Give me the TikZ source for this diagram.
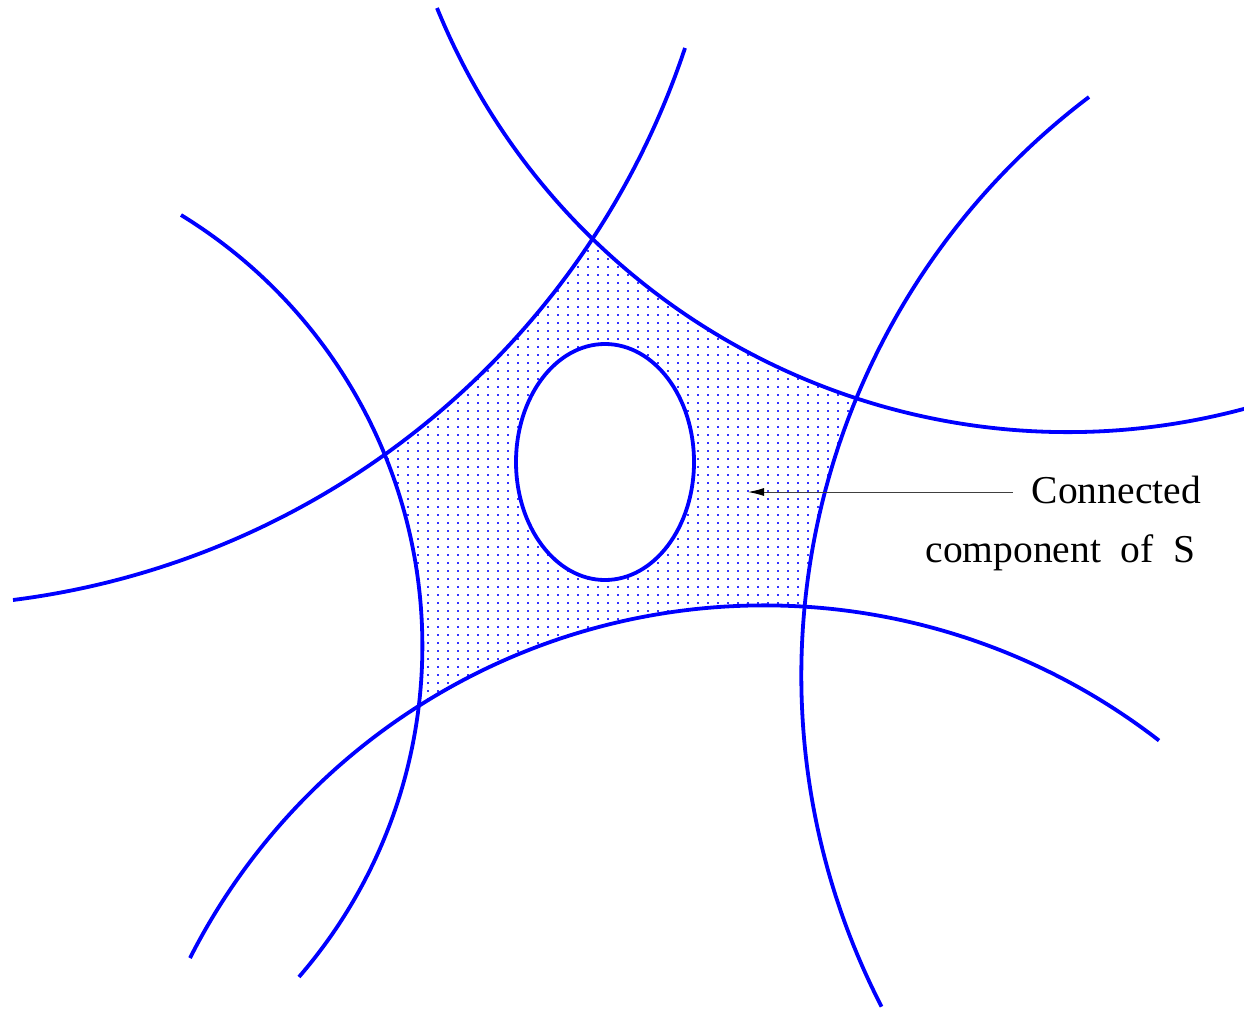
\documentclass[tikz,border=0pt]{standalone}
\usepackage{fontspec}
\setmainfont{Liberation Serif}
\usepackage{tikz}
\usetikzlibrary{arrows.meta}

\begin{document}
\begin{tikzpicture}[kurve/.style={draw=blue, line width=3.8pt}, punkte/.style={blue!80, line width=1.8pt, dash pattern=on 1.8pt off 6.2pt},
				x=1pt, y=-1pt,
				>={Latex[length=16pt,width=8pt,color=black]},   %Pfeilspitzen
				font=\fontsize{39.5}{47}\selectfont]
				\useasboundingbox (0,0) rectangle (1244,1009);
				%Punktierte Flaeche
				\begin{scope}[even odd rule]
				\clip (-3000,-3000) rectangle (4000,4000) (1068,-249.5) circle[radius=681.5];
				\clip (-3000,-3000) rectangle (4000,4000) (-90,-209.2) circle[radius=816];
				\clip (-3000,-3000) rectangle (4000,4000) (-83,646) circle[radius=505.5];
				\clip (-3000,-3000) rectangle (4000,4000) (764.5,1249.3) circle[radius=644];
				\clip (-3000,-3000) rectangle (4000,4000) (1526.5,674.7) circle[radius=725];
				\clip (-3000,-3000) rectangle (4000,4000) (605,462) ellipse[x radius=89, y radius=118];
				\foreach \x in {388,398,...,858} \draw[punkte] (\x,234) -- (\x,712);
				\end{scope}
				% Kurven zeichnen
				\draw[kurve] (437,8) arc[start angle=157.8, end angle=75.0, radius=681.5];
				\draw[kurve] (685,48) arc[start angle=18.4, end angle=82.8, radius=816];
				\draw[kurve] (181,215) arc[start angle=-58.5, end angle=40.9, radius=505.5];
				\draw[kurve] (190,958) arc[start angle=-153.1, end angle=-52.2, radius=644];
				\draw[kurve] (1089,97) arc[start angle=232.9, end angle=152.8, radius=725];
				\draw[kurve] (605,462) ellipse[x radius=89, y radius=118];
				% Beschriftung
				\node[anchor=base east, inner xsep=19pt] (textA) at (1220,503) {Connected};
				\node[anchor=base east] (textB) at (1199,562) {component\ \ of\ \ S};
				\coordinate (spitze) at (748,492);
				\draw[->, black!75, line width=1pt] (textA.west |- spitze) -- (spitze);
			\end{tikzpicture}
\end{document}
